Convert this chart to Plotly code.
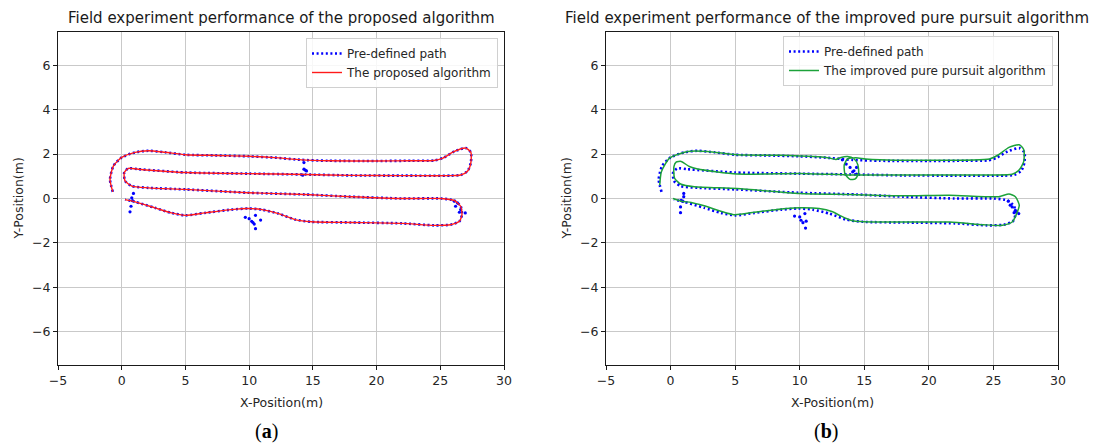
import plotly.graph_objects as go

# ---------------- data ----------------
# Pre-defined path (shared by both experiments)
path_x = [-0.70, -0.92, -0.65, 0.00, 1.05, 2.10, 3.40, 5.00, 7.50, 10.00, 12.00, 14.10,
          16.20, 20.00, 22.70, 24.50, 25.20, 26.10, 27.00, 27.40, 27.40, 27.15, 26.60,
          25.80, 22.00, 18.00, 14.40, 10.00, 5.00, 1.30, 0.52, 0.20, 0.26, 0.80, 2.10,
          5.00, 9.90, 14.40, 18.00, 22.00, 25.05, 26.10, 26.60, 26.70, 26.50, 25.80,
          24.50, 22.00, 18.00, 14.90, 13.60, 12.30, 11.00, 9.90, 8.60, 6.50, 5.00,
          3.90, 2.60, 1.05, 0.26]
path_y = [0.30, 0.86, 1.47, 1.85, 2.08, 2.15, 2.08, 1.97, 1.94, 1.90, 1.84, 1.74,
          1.70, 1.69, 1.70, 1.71, 1.82, 2.12, 2.27, 2.08, 1.62, 1.24, 1.06,
          1.03, 1.03, 1.04, 1.08, 1.12, 1.17, 1.32, 1.36, 1.17, 0.79, 0.56, 0.48,
          0.41, 0.26, 0.18, 0.08, 0.00, 0.00, -0.09, -0.35, -0.73, -1.03, -1.18,
          -1.21, -1.12, -1.08, -1.05, -0.95, -0.68, -0.50, -0.45, -0.50, -0.65, -0.76,
          -0.65, -0.42, -0.15, -0.05]

# Scattered pre-defined points (path jumps), panel (a)
jump_a_x = [0.92, 0.79, 0.85, 0.73, 0.65,
            9.7, 10.0, 10.5, 10.9, 10.2, 10.4, 10.5, 10.3,
            14.3, 14.3, 14.5, 14.4, 14.2,
            26.1, 26.35, 26.2, 26.6, 26.5, 26.96]
jump_a_y = [0.23, 0.03, -0.10, -0.35, -0.60,
            -0.85, -0.91, -0.76, -0.97, -1.03, -1.15, -1.36, -1.08,
            1.62, 1.32, 1.24, 1.28, 1.05,
            -0.12, -0.20, -0.35, -0.50, -0.62, -0.65]

# Scattered pre-defined points (path jumps), panel (b)
jump_b_x = [1.02, 1.02, 0.82, 0.95, 0.77, 0.77,
            9.6, 10.0, 10.4, 10.1, 10.25, 10.5, 10.45,
            13.3, 13.6, 13.9, 14.2, 14.4, 14.1, 14.4,
            26.15, 26.3, 26.45, 26.7, 26.8, 26.6, 26.96]
jump_b_y = [0.23, 0.08, -0.08, -0.12, -0.38, -0.64,
            -0.79, -0.83, -0.68, -0.98, -1.09, -1.02, -1.33,
            1.74, 1.55, 1.40, 1.25, 1.10, 1.20, 1.40,
            -0.12, -0.30, -0.38, -0.53, -0.60, -0.64, -0.68]

# The proposed algorithm (tracks the path)
proposed_x = path_x
proposed_y = path_y

# The improved pure pursuit algorithm
improved_x = [-0.84, -0.71, -0.08, 1.33, 2.86, 5.15, 8.40, 10.00, 11.50, 12.30, 12.80,
              13.20, 13.70, 14.20, 14.50, 14.56, 14.30, 13.90, 13.50, 13.45, 13.70,
              14.35, 15.10, 16.20, 20.00, 24.70, 25.40, 26.20, 27.00, 27.35, 27.35,
              27.00, 26.45, 25.00, 21.60, 16.20, 14.10, 10.00, 5.15, 2.10, 1.45, 0.82,
              0.43, 0.26, 0.31, 0.82, 1.84, 5.15, 10.00, 14.00, 18.00, 21.60, 25.40,
              26.20, 26.70, 27.00, 26.80, 26.45, 25.70, 24.20, 21.60, 16.20, 14.10,
              13.10, 12.55, 11.50, 10.00, 9.00, 6.50, 4.90, 2.60, 1.60, 0.82, 0.18]
improved_y = [0.60, 1.21, 1.82, 2.12, 2.12, 1.97, 1.95, 1.92, 1.88, 1.82, 1.76,
              1.85, 1.89, 1.79, 1.52, 1.14, 0.88, 0.86, 1.12, 1.52, 1.78,
              1.84, 1.78, 1.74, 1.72, 1.78, 1.97, 2.30, 2.42, 2.20, 1.67,
              1.29, 1.09, 1.06, 1.06, 1.06, 1.06, 1.13, 1.10, 1.33, 1.44, 1.67,
              1.64, 1.44, 0.91, 0.64, 0.53, 0.45, 0.23, 0.18, 0.12, 0.15, 0.08,
              0.20, 0.08, -0.30, -0.68, -1.06, -1.21, -1.18, -1.06, -1.06, -1.00,
              -0.76, -0.60, -0.45, -0.42, -0.45, -0.62, -0.73, -0.33, -0.18, -0.12, 0.00]

x_ticks = [-5, 0, 5, 10, 15, 20, 25, 30]
y_ticks = [-6, -4, -2, 0, 2, 4, 6]

titles = ["Field experiment performance of the proposed algorithm",
          "Field experiment performance of the improved pure pursuit algorithm"]
captions = ["(<b>a</b>)", "(<b>b</b>)"]

# ---------------- figure ----------------
# The page body has an 8px default margin, so the figure is 8px smaller and
# all screen positions below are shifted by that offset.
OFF = 8
W, H = 1102 - OFF, 445 - OFF
BLUE = "#0000ff"
RED = "#ff1a1a"
GREEN = "#1ca23a"
FONT = "DejaVu Sans"

fig = go.Figure()

dot_line = dict(color=BLUE, width=2.6, dash="2px,2.6px", shape="spline", smoothing=0.6)

# panel (a)
fig.add_trace(go.Scatter(x=path_x, y=path_y, mode="lines", line=dot_line,
                         name="Pre-defined path", xaxis="x", yaxis="y", legend="legend"))
fig.add_trace(go.Scatter(x=jump_a_x, y=jump_a_y, mode="markers",
                         marker=dict(color=BLUE, size=3.2), showlegend=False,
                         xaxis="x", yaxis="y"))
fig.add_trace(go.Scatter(x=proposed_x, y=proposed_y, mode="lines",
                         line=dict(color=RED, width=1.4, shape="spline", smoothing=0.6),
                         name="The proposed algorithm", xaxis="x", yaxis="y", legend="legend"))

# panel (b)
fig.add_trace(go.Scatter(x=path_x, y=path_y, mode="lines", line=dot_line,
                         name="Pre-defined path", xaxis="x2", yaxis="y2", legend="legend2"))
fig.add_trace(go.Scatter(x=jump_b_x, y=jump_b_y, mode="markers",
                         marker=dict(color=BLUE, size=3.2), showlegend=False,
                         xaxis="x2", yaxis="y2"))
fig.add_trace(go.Scatter(x=improved_x, y=improved_y, mode="lines",
                         line=dict(color=GREEN, width=1.5, shape="spline", smoothing=0.6),
                         name="The improved pure pursuit algorithm", xaxis="x2", yaxis="y2",
                         legend="legend2"))

# screen-pixel geometry of the two axes (reference image coordinates)
LEFT = (58, 504)
RIGHT = (606, 1058)
TOP, BOT = 32, 365

def px(v):
    return (v - OFF) / W

def py(v):
    return 1 - (v - OFF) / H

axis_common = dict(showline=True, mirror=True, linecolor="#1a1a1a", linewidth=1,
                   ticks="outside", ticklen=4, tickcolor="#1a1a1a", tickwidth=1,
                   showgrid=True, gridcolor="#c9c9c9", gridwidth=1, zeroline=False,
                   automargin=False,
                   tickfont=dict(family=FONT, size=12.5, color="#262626"))

legend_common = dict(xanchor="right", yanchor="top",
                     bgcolor="rgba(255,255,255,0.85)", bordercolor="#d0d0d0", borderwidth=1,
                     font=dict(family=FONT, size=12, color="#262626"),
                     itemwidth=30, tracegroupgap=0)

fig.update_layout(
    width=W, height=H,
    margin=dict(l=0, r=0, t=0, b=0),
    paper_bgcolor="white", plot_bgcolor="white",
    font=dict(family=FONT, color="#262626"),
    xaxis=dict(domain=[px(LEFT[0]), px(LEFT[1])], range=[-5, 30], tickvals=x_ticks,
               anchor="y", **axis_common),
    yaxis=dict(domain=[py(BOT), py(TOP)], range=[-7.5, 7.5], tickvals=y_ticks,
               anchor="x", **axis_common),
    xaxis2=dict(domain=[px(RIGHT[0]), px(RIGHT[1])], range=[-5, 30], tickvals=x_ticks,
                anchor="y2", **axis_common),
    yaxis2=dict(domain=[py(BOT), py(TOP)], range=[-7.5, 7.5], tickvals=y_ticks,
                anchor="x2", **axis_common),
    legend=dict(x=px(498), y=py(38), **legend_common),
    legend2=dict(x=px(1053), y=py(36), **legend_common),
    showlegend=True,
)

title_cx = [281, 827]
caption_cx = [266, 826]
annotations = []
for i, (l, r) in enumerate([LEFT, RIGHT]):
    cx = (l + r) / 2
    annotations.append(dict(text=titles[i], x=px(title_cx[i]), y=py(18), xref="paper",
                            yref="paper", xanchor="center", yanchor="middle", showarrow=False,
                            font=dict(family=FONT, size=15, color="#1a1a1a")))
    annotations.append(dict(text="X-Position(m)", x=px(cx), y=py(402), xref="paper",
                            yref="paper", xanchor="center", yanchor="middle",
                            showarrow=False, font=dict(family=FONT, size=12.5, color="#262626")))
    annotations.append(dict(text="Y-Position(m)", x=px(l - 40), y=py((TOP + BOT) / 2),
                            xref="paper", yref="paper", xanchor="center", yanchor="middle",
                            textangle=-90, showarrow=False,
                            font=dict(family=FONT, size=12.5, color="#262626")))
    annotations.append(dict(text=captions[i], x=px(caption_cx[i]), y=py(431),
                            xref="paper", yref="paper", xanchor="center", yanchor="middle",
                            showarrow=False,
                            font=dict(family="Liberation Serif", size=20, color="#000000")))
fig.update_layout(annotations=annotations)

fig.write_html("out.html")
